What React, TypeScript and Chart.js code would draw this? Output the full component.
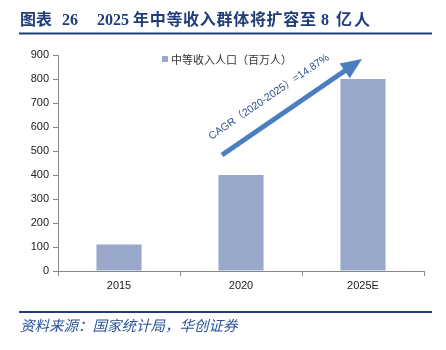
import React, { useEffect, useRef } from "react";
import { Chart, registerables } from "chart.js";

Chart.register(...registerables);

const categories = ["2015", "2020", "2025E"];
const population = [110, 400, 800];
const seriesLabel = "中等收入人口（百万人）";
const yTicksMax = 900;
const yTickStep = 100;
const titleParts = ["图表", "26", "2025", "年中等收入群体将扩容至", "8", "亿人"];
const sourceText = "资料来源：国家统计局，华创证券";
const cagrText = "CAGR（2020-2025）=14.87%";

const BAR = "#9AA8CB";
const NAVY = "#1F3D7A";
const ARROW = "#4A7EC0";

const decor = {
  id: "decor",
  afterDraw(chart: any) {
    const ctx = chart.ctx as CanvasRenderingContext2D;
    ctx.save();
    // title
    ctx.fillStyle = NAVY;
    ctx.textBaseline = "alphabetic";
    ctx.textAlign = "left";
    ctx.font = "bold 16px 'Liberation Serif', 'Noto Sans CJK SC'";
    const xs = [20, 62, 97, 133, 321, 336];
    titleParts.forEach((t, i) => {
      (ctx as any).letterSpacing = i === 3 ? "0.7px" : i === 5 ? "2px" : "0px";
      ctx.fillText(t, xs[i], 25);
    });
    (ctx as any).letterSpacing = "0px";
    // rules
    ctx.strokeStyle = NAVY;
    ctx.lineWidth = 2;
    ctx.beginPath();
    ctx.moveTo(19, 33.5);
    ctx.lineTo(432, 33.5);
    ctx.moveTo(19, 312);
    ctx.lineTo(432, 312);
    ctx.stroke();
    // source
    ctx.font = "italic 14.5px 'Noto Sans CJK SC'";
    ctx.fillStyle = "#2A5298";
    ctx.fillText(sourceText, 20, 331);
    // legend
    ctx.fillStyle = BAR;
    ctx.fillRect(162, 56, 6, 6);
    ctx.fillStyle = "#333";
    ctx.font = "11px 'Noto Sans CJK SC'";
    ctx.textBaseline = "middle";
    ctx.fillText(chart.data.datasets[0].label, 171, 59.5);
    // arrow
    const x0 = 222, y0 = 155, x1 = 362, y1 = 59;
    const ang = Math.atan2(y1 - y0, x1 - x0);
    const headLen = 21, headW = 9;
    const bx = x1 - headLen * Math.cos(ang);
    const by = y1 - headLen * Math.sin(ang);
    ctx.strokeStyle = ARROW;
    ctx.lineWidth = 5;
    ctx.lineCap = "butt";
    ctx.beginPath();
    ctx.moveTo(x0, y0);
    ctx.lineTo(bx + 2 * Math.cos(ang), by + 2 * Math.sin(ang));
    ctx.stroke();
    ctx.fillStyle = ARROW;
    ctx.beginPath();
    ctx.moveTo(x1, y1);
    ctx.lineTo(bx + headW * Math.sin(ang), by - headW * Math.cos(ang));
    ctx.lineTo(bx - headW * Math.sin(ang), by + headW * Math.cos(ang));
    ctx.closePath();
    ctx.fill();
    // CAGR text
    ctx.translate(269, 97);
    ctx.rotate(ang);
    ctx.textAlign = "center";
    ctx.textBaseline = "middle";
    ctx.fillStyle = "#2F4F8F";
    ctx.font = "10.5px 'Liberation Sans', 'Noto Sans CJK SC'";
    ctx.fillText(cagrText, 0, 0);
    ctx.restore();
  },
};

export default function App() {
  const ref = useRef<HTMLCanvasElement | null>(null);
  useEffect(() => {
    if (!ref.current) return;
    const chart = new Chart(ref.current, {
      type: "bar",
      data: {
        labels: categories,
        datasets: [
          {
            label: seriesLabel,
            data: population,
            backgroundColor: BAR,
            categoryPercentage: 1,
            barPercentage: 0.37,
          },
        ],
      },
      options: {
        animation: false,
        responsive: false,
        layout: { padding: { left: 0, right: 22, top: 55, bottom: 51 } },
        plugins: { legend: { display: false }, tooltip: { enabled: false } },
        scales: {
          x: {
            offset: true,
            grid: {
              offset: true,
              drawOnChartArea: false,
              drawTicks: true,
              tickLength: 5,
              tickColor: "#888",
            },
            border: { color: "#888", width: 1 },
            ticks: {
              color: "#222",
              font: { family: "'Liberation Sans', Arial", size: 11 },
              padding: 3,
            },
            afterFit(scale: any) {
              scale.height = 28;
            },
          },
          y: {
            min: 0,
            max: yTicksMax,
            ticks: {
              stepSize: yTickStep,
              color: "#222",
              font: { family: "'Liberation Sans', Arial", size: 11 },
              padding: 4,
            },
            grid: {
              drawOnChartArea: false,
              drawTicks: true,
              tickLength: 5,
              tickColor: "#888",
            },
            border: { color: "#888", width: 1 },
            afterFit(scale: any) {
              scale.width = 58;
            },
          },
        },
      },
      plugins: [decor],
    });
    return () => chart.destroy();
  }, []);
  return (
    <div style={{ position: "absolute", left: 0, top: 0, width: 446, height: 350, background: "#fff" }}>
      <canvas ref={ref} width={446} height={350} />
    </div>
  );
}
